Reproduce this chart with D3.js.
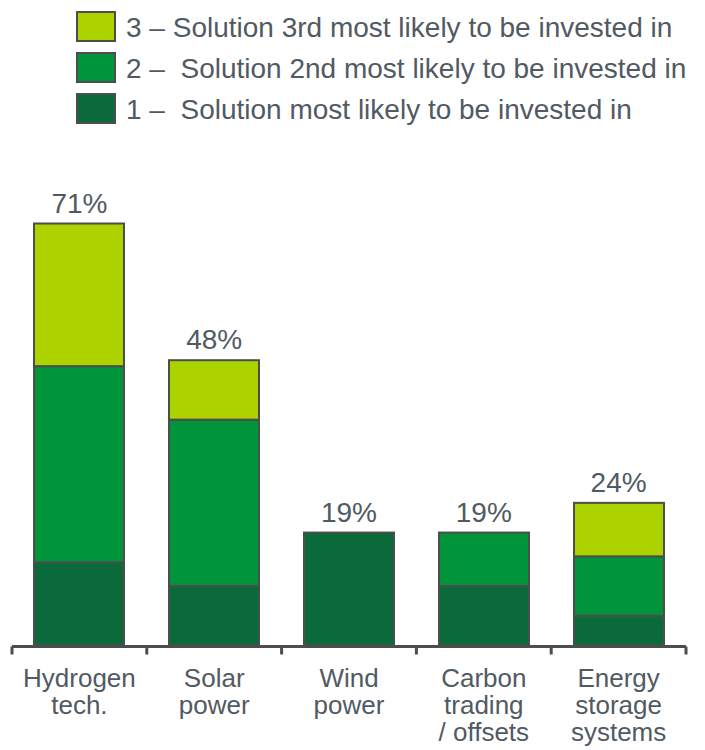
<!DOCTYPE html>
<html>
<head>
<meta charset="utf-8">
<script src="https://cdn.jsdelivr.net/npm/d3@7"></script>
<style>
  html, body { margin: 0; padding: 0; background: #fff; }
  svg { display: block; font-family: "Liberation Sans", Arial, sans-serif; }
  .legend-label { white-space: pre; }
</style>
</head>
<body>
<svg id="chart" width="705" height="750"></svg>
<script>
// Investment preference by solution (% of respondents)
const categories = [
  ["Hydrogen", "tech."],
  ["Solar", "power"],
  ["Wind", "power"],
  ["Carbon", "trading", "/ offsets"],
  ["Energy", "storage", "systems"]
];
const rank1 = [14, 10, 19, 10, 5];
const rank2 = [33, 28, 0, 9, 10];
const rank3 = [24, 10, 0, 0, 9];
const totals = [71, 48, 19, 19, 24];
const seriesKeys = ["rank1", "rank2", "rank3"];
const legendLabels = [
  "3 \u2013 Solution 3rd most likely to be invested in",
  "2 \u2013  Solution 2nd most likely to be invested in",
  "1 \u2013  Solution most likely to be invested in"
];

const colors = { rank1: "#0a6a3a", rank2: "#00953a", rank3: "#acd300" };
const strokeCol = "#4d4d4d";
const textCol = "#515a62";

const svg = d3.select("#chart");
const margin = { left: 12, right: 19, top: 0, bottom: 104 };
const width = 705, height = 750;

const rows = categories.map((c, i) => ({
  key: i, rank1: rank1[i], rank2: rank2[i], rank3: rank3[i]
}));
const stacked = d3.stack().keys(seriesKeys)(rows);

const x = d3.scaleBand()
  .domain(d3.range(categories.length))
  .range([margin.left, width - margin.right])
  .paddingInner(1 / 3)
  .paddingOuter(1 / 6);

const y = d3.scaleLinear()
  .domain([0, 71])
  .range([height - margin.bottom - 0.5, 223.5]);

// Stacked bars
svg.append("g")
  .selectAll("g")
  .data(stacked)
  .join("g")
  .attr("fill", d => colors[d.key])
  .selectAll("rect")
  .data(d => d.filter(p => p[1] - p[0] > 0))
  .join("rect")
  .attr("x", d => Math.round(x(d.data.key)))
  .attr("width", Math.round(x.bandwidth()))
  .attr("y", d => y(d[1]))
  .attr("height", d => y(d[0]) - y(d[1]))
  .attr("stroke", strokeCol)
  .attr("stroke-width", 2);

// Total labels
svg.append("g")
  .selectAll("text")
  .data(totals)
  .join("text")
  .attr("x", (d, i) => x(i) + x.bandwidth() / 2)
  .attr("y", d => y(d) - 11)
  .attr("text-anchor", "middle")
  .attr("fill", textCol)
  .attr("font-size", 28)
  .text(d => d + "%");

// Category axis with group-separator ticks
const axisY = y(0) + 1;
const edges = d3.range(categories.length + 1).map(i =>
  i === 0 ? margin.left : (i === categories.length ? width - margin.right : x(i - 1) + x.bandwidth() + (x.step() - x.bandwidth()) / 2));
const axis = svg.append("g").attr("stroke", strokeCol).attr("stroke-width", 3);
axis.append("line")
  .attr("x1", margin.left).attr("x2", width - margin.right)
  .attr("y1", axisY).attr("y2", axisY);
axis.selectAll("line.tick")
  .data(edges)
  .join("line")
  .attr("class", "tick")
  .attr("x1", d => d).attr("x2", d => d)
  .attr("y1", axisY).attr("y2", axisY + 8);

// Category labels
const labels = svg.append("g")
  .attr("fill", textCol)
  .attr("font-size", 26)
  .attr("text-anchor", "middle");
categories.forEach((lines, i) => {
  const t = labels.append("text")
    .attr("x", x(i) + x.bandwidth() / 2)
    .attr("y", 687);
  lines.forEach((ln, j) => {
    t.append("tspan")
      .attr("x", x(i) + x.bandwidth() / 2)
      .attr("dy", j === 0 ? 0 : 27)
      .text(ln);
  });
});

// Legend
const legendKeys = ["rank3", "rank2", "rank1"];
const legend = svg.append("g");
legendKeys.forEach((k, i) => {
  const g = legend.append("g").attr("transform", `translate(0, ${i * 41})`);
  g.append("rect")
    .attr("x", 77).attr("y", 12)
    .attr("width", 38).attr("height", 29)
    .attr("fill", colors[k])
    .attr("stroke", strokeCol)
    .attr("stroke-width", 2);
  g.append("text")
    .attr("class", "legend-label")
    .attr("x", 126).attr("y", 37)
    .attr("fill", textCol)
    .attr("font-size", 28)
    .text(legendLabels[i]);
});
</script>
</body>
</html>
